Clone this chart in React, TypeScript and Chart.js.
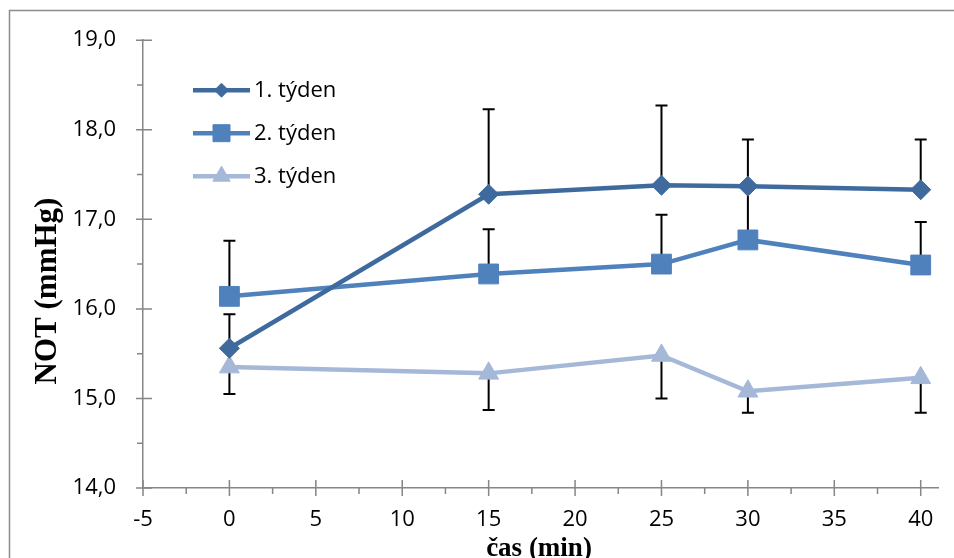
import React, { useEffect, useRef } from 'react';
import { Chart, registerables } from 'chart.js';
import { drawPoint } from 'chart.js/helpers';

Chart.register(...registerables);

// ---- data ----
const timeMin = [0, 15, 25, 30, 40];
const seriesNames = ['1. týden', '2. týden', '3. týden'];
const week1 = [15.56, 17.28, 17.38, 17.37, 17.33];
const week1ErrUp = [0.38, 0.95, 0.89, 0.52, 0.56];
const week2 = [16.14, 16.39, 16.5, 16.77, 16.49];
const week2ErrUp = [0.62, 0.5, 0.55, 0.59, 0.48];
const week3 = [15.35, 15.28, 15.48, 15.08, 15.23];
const week3ErrDown = [0.3, 0.41, 0.48, 0.24, 0.39];
const xTicks = [-5, 0, 5, 10, 15, 20, 25, 30, 35, 40];
const yTicks = [14, 15, 16, 17, 18, 19];
const xTitle = 'čas (min)';
const yTitle = 'NOT (mmHg)';

const AXIS_GRAY = '#868686';
const TICK_FONT = { family: '"Open Sans", "Liberation Sans", sans-serif', size: 22 };

const errorBarPlugin = {
  id: 'errorBars',
  beforeDatasetsDraw(chart: any) {
    const { ctx, scales } = chart;
    const xs = scales.x;
    const ys = scales.y;
    ctx.save();
    ctx.strokeStyle = '#000';
    ctx.lineWidth = 2;
    chart.data.datasets.forEach((ds: any) => {
      const eb = ds.errorBars;
      if (!eb) return;
      ds.data.forEach((pt: any, i: number) => {
        const x = xs.getPixelForValue(pt.x);
        const y0 = ys.getPixelForValue(pt.y);
        const y1 = ys.getPixelForValue(pt.y + eb.dir * eb.values[i]);
        ctx.beginPath();
        ctx.moveTo(x, y0);
        ctx.lineTo(x, y1);
        ctx.moveTo(x - 6, y1);
        ctx.lineTo(x + 6, y1);
        ctx.stroke();
      });
    });
    ctx.restore();
  },
};

const decorPlugin = {
  id: 'decor',
  afterDraw(chart: any) {
    const { ctx, scales, chartArea } = chart;
    const xs = scales.x;
    const ys = scales.y;
    ctx.save();
    // outer frame
    ctx.strokeStyle = '#8c8c8c';
    ctx.lineWidth = 1.5;
    ctx.beginPath();
    ctx.moveTo(9.5, chart.height + 2);
    ctx.lineTo(9.5, 10.5);
    ctx.lineTo(chart.width + 2, 10.5);
    ctx.stroke();

    // tick marks
    ctx.strokeStyle = AXIS_GRAY;
    ctx.lineWidth = 1.5;
    const axisY = chartArea.bottom;
    const axisX = chartArea.left;
    ctx.beginPath();
    xTicks.forEach((v, i) => {
      const px = xs.getPixelForValue(v);
      ctx.moveTo(px, axisY - 8);
      ctx.lineTo(px, axisY + 8);
      if (i < xTicks.length - 1) {
        const m = xs.getPixelForValue((v + xTicks[i + 1]) / 2);
        ctx.moveTo(m, axisY);
        ctx.lineTo(m, axisY + 6);
      }
    });
    yTicks.forEach((v, i) => {
      const py = ys.getPixelForValue(v);
      ctx.moveTo(axisX - 7, py);
      ctx.lineTo(axisX + 9, py);
      if (i < yTicks.length - 1) {
        const m = ys.getPixelForValue((v + yTicks[i + 1]) / 2);
        ctx.moveTo(axisX - 6, m);
        ctx.lineTo(axisX, m);
      }
    });
    ctx.stroke();

    // legend
    const lx0 = chartArea.left + 50;
    const lx1 = chartArea.left + 107;
    const legendRadius = [7, 12, 10];
    chart.data.datasets.forEach((ds: any, i: number) => {
      const ly = chartArea.top + 50 + i * 43;
      ctx.strokeStyle = ds.borderColor;
      ctx.lineWidth = ds.borderWidth;
      ctx.beginPath();
      ctx.moveTo(lx0, ly);
      ctx.lineTo(lx1, ly);
      ctx.stroke();
      ctx.fillStyle = ds.pointBackgroundColor;
      ctx.strokeStyle = ds.pointBorderColor;
      ctx.lineWidth = 1;
      drawPoint(ctx, { pointStyle: ds.pointStyle, radius: legendRadius[i], rotation: 0, borderWidth: 1 }, (lx0 + lx1) / 2, ly);
      ctx.fillStyle = '#000';
      ctx.font = `${TICK_FONT.size}px ${TICK_FONT.family}`;
      ctx.textAlign = 'left';
      ctx.textBaseline = 'middle';
      ctx.fillText(ds.label, lx1 + 4, ly + 1);
    });

    // axis titles
    ctx.fillStyle = '#000';
    ctx.font = 'bold 27px "Liberation Serif", "Times New Roman", serif';
    ctx.textAlign = 'center';
    ctx.textBaseline = 'alphabetic';
    ctx.fillText(xTitle, 539, 556);

    ctx.save();
    ctx.translate(56, 291);
    ctx.rotate(-Math.PI / 2);
    ctx.font = 'bold 31px "Liberation Serif", "Times New Roman", serif';
    ctx.fillText(yTitle, 0, 0);
    ctx.restore();

    ctx.restore();
  },
};

export default function App() {
  const ref = useRef<HTMLCanvasElement | null>(null);

  useEffect(() => {
    if (!ref.current) return;
    const mk = (vals: number[]) => vals.map((y, i) => ({ x: timeMin[i], y }));
    const chart = new Chart(ref.current, {
      type: 'line',
      data: {
        datasets: [
          {
            label: seriesNames[0],
            data: mk(week1),
            borderColor: '#3E6A9E',
            backgroundColor: '#3E6A9E',
            pointBackgroundColor: '#3E6A9E',
            pointBorderColor: '#3E6A9E',
            borderWidth: 4.5,
            pointStyle: 'rectRot',
            pointRadius: 10,
            pointBorderWidth: 1,
            tension: 0,
            errorBars: { dir: 1, values: week1ErrUp },
          } as any,
          {
            label: seriesNames[1],
            data: mk(week2),
            borderColor: '#4F81BD',
            backgroundColor: '#4F81BD',
            pointBackgroundColor: '#4F81BD',
            pointBorderColor: '#4F81BD',
            borderWidth: 4.5,
            pointStyle: 'rect',
            pointRadius: 14,
            pointBorderWidth: 1,
            tension: 0,
            errorBars: { dir: 1, values: week2ErrUp },
          } as any,
          {
            label: seriesNames[2],
            data: mk(week3),
            borderColor: '#A6B8D8',
            backgroundColor: '#A6B8D8',
            pointBackgroundColor: '#A6B8D8',
            pointBorderColor: '#A6B8D8',
            borderWidth: 4.5,
            pointStyle: 'triangle',
            pointRadius: 11.5,
            pointBorderWidth: 1,
            tension: 0,
            errorBars: { dir: -1, values: week3ErrDown },
          } as any,
        ],
      },
      options: {
        animation: false,
        responsive: false,
        layout: { padding: { top: 38, right: 16, left: 0, bottom: 0 } },
        plugins: {
          legend: { display: false },
          tooltip: { enabled: false },
        },
        scales: {
          x: {
            type: 'linear',
            min: -5,
            max: 41,
            grid: { display: false, drawTicks: false },
            border: { color: AXIS_GRAY, width: 1.5 },
            ticks: { font: TICK_FONT, color: '#000', padding: 19, maxRotation: 0, autoSkip: false },
            afterBuildTicks: (s: any) => {
              s.ticks = xTicks.map((v) => ({ value: v }));
            },
            afterFit: (s: any) => {
              s.height = 70;
            },
          },
          y: {
            type: 'linear',
            min: 14,
            max: 19,
            grid: { display: false, drawTicks: false },
            border: { color: AXIS_GRAY, width: 1.5 },
            ticks: {
              font: TICK_FONT,
              color: '#000',
              padding: 27,
              callback: (v: any) => Number(v).toFixed(1).replace('.', ','),
            },
            afterBuildTicks: (s: any) => {
              s.ticks = yTicks.map((v) => ({ value: v }));
            },
            afterFit: (s: any) => {
              s.width = 143;
            },
          },
        },
      },
      plugins: [errorBarPlugin, decorPlugin],
    });
    return () => chart.destroy();
  }, []);

  return (
    <div style={{ position: 'fixed', left: 0, top: 0, width: 954, height: 558, background: '#fff' }}>
      <canvas ref={ref} width={954} height={558} style={{ display: 'block' }} />
    </div>
  );
}
